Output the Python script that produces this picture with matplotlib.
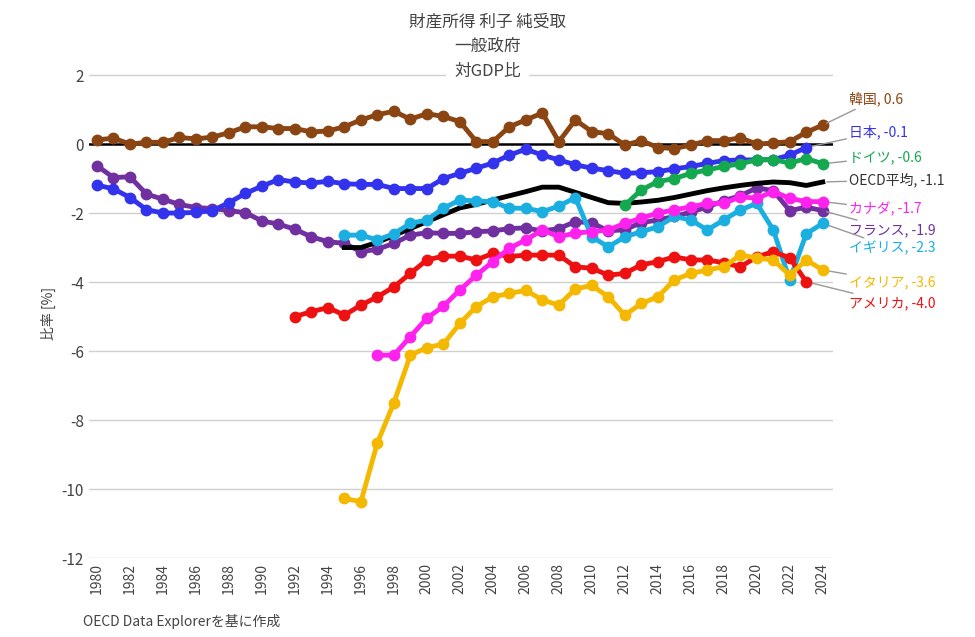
import matplotlib
matplotlib.use("Agg")
import matplotlib.pyplot as plt
import numpy as np

plt.rcParams['font.family'] = ['Noto Sans CJK JP', 'DejaVu Sans']

korea_years = list(range(1980, 2025))
korea = [0.12,0.17,0.0,0.05,0.05,0.19,0.15,0.2,0.33,0.5,0.5,0.45,0.45,0.35,0.38,0.5,0.7,0.85,0.95,0.72,0.88,0.8,0.65,0.07,0.07,0.5,0.7,0.9,0.07,0.7,0.36,0.3,-0.03,0.1,-0.1,-0.13,-0.03,0.1,0.1,0.18,0.0,0.03,0.07,0.34,0.55]
japan_years = list(range(1980, 2024))
japan = [-1.19,-1.3,-1.55,-1.9,-2.0,-2.0,-1.98,-1.93,-1.7,-1.43,-1.22,-1.03,-1.1,-1.13,-1.08,-1.15,-1.17,-1.17,-1.29,-1.29,-1.29,-1.0,-0.85,-0.7,-0.55,-0.32,-0.15,-0.32,-0.46,-0.6,-0.7,-0.77,-0.85,-0.83,-0.8,-0.72,-0.65,-0.56,-0.48,-0.46,-0.46,-0.45,-0.32,-0.1]
germany_years = list(range(2012, 2025))
germany = [-1.77,-1.33,-1.09,-1.0,-0.85,-0.75,-0.65,-0.57,-0.46,-0.45,-0.55,-0.42,-0.57]
oecd_years = list(range(1995, 2025))
oecd = [-3.0,-3.0,-2.85,-2.65,-2.45,-2.25,-2.05,-1.85,-1.75,-1.62,-1.5,-1.38,-1.25,-1.25,-1.4,-1.55,-1.7,-1.72,-1.68,-1.63,-1.55,-1.45,-1.35,-1.27,-1.2,-1.14,-1.1,-1.12,-1.2,-1.1]
canada_years = list(range(1997, 2025))
canada = [-6.12,-6.12,-5.58,-5.05,-4.7,-4.23,-3.8,-3.41,-3.02,-2.78,-2.49,-2.69,-2.58,-2.54,-2.49,-2.3,-2.15,-2.0,-1.91,-1.82,-1.72,-1.72,-1.53,-1.57,-1.38,-1.57,-1.67,-1.67]
france_years = list(range(1980, 2025))
france = [-0.63,-0.97,-0.95,-1.45,-1.6,-1.75,-1.84,-1.87,-1.93,-1.99,-2.23,-2.32,-2.47,-2.69,-2.83,-2.88,-3.12,-3.05,-2.88,-2.64,-2.57,-2.59,-2.59,-2.54,-2.52,-2.45,-2.43,-2.52,-2.45,-2.25,-2.28,-2.52,-2.48,-2.28,-2.2,-2.1,-1.97,-1.83,-1.64,-1.5,-1.27,-1.35,-1.93,-1.83,-1.93]
uk_years = list(range(1995, 2025))
uk = [-2.64,-2.64,-2.78,-2.6,-2.3,-2.2,-1.86,-1.62,-1.65,-1.67,-1.86,-1.86,-1.96,-1.8,-1.55,-2.69,-2.98,-2.69,-2.54,-2.4,-2.1,-2.2,-2.49,-2.2,-1.91,-1.72,-2.49,-3.94,-2.6,-2.3]
italy_years = list(range(1995, 2025))
italy = [-10.27,-10.37,-8.66,-7.5,-6.12,-5.9,-5.8,-5.2,-4.71,-4.43,-4.33,-4.24,-4.52,-4.67,-4.2,-4.1,-4.43,-4.96,-4.62,-4.43,-3.94,-3.75,-3.65,-3.56,-3.22,-3.3,-3.36,-3.8,-3.36,-3.65]
us_years = list(range(1992, 2024))
us = [-5.0,-4.86,-4.74,-4.96,-4.67,-4.43,-4.14,-3.75,-3.36,-3.25,-3.25,-3.36,-3.17,-3.26,-3.22,-3.22,-3.22,-3.56,-3.6,-3.8,-3.75,-3.5,-3.41,-3.27,-3.36,-3.36,-3.44,-3.56,-3.27,-3.12,-3.3,-3.99]

series = [
    ("韓国", korea_years, korea, "#8B4513", True, 1.3),
    ("日本", japan_years, japan, "#3333EE", True, 0.35),
    ("ドイツ", germany_years, germany, "#14A84F", True, -0.38),
    ("OECD平均", oecd_years, oecd, "#000000", False, -1.04),
    ("カナダ", canada_years, canada, "#FF22EE", True, -1.88),
    ("フランス", france_years, france, "#7030A0", True, -2.49),
    ("イギリス", uk_years, uk, "#1AAFE0", True, -3.01),
    ("イタリア", italy_years, italy, "#F5B800", True, -4.0),
    ("アメリカ", us_years, us, "#EE1111", True, -4.61),
]
draw_order = ["韓国", "フランス", "日本", "OECD平均", "イギリス", "アメリカ", "イタリア", "カナダ", "ドイツ"]

fig = plt.figure(figsize=(9.75, 6.37), dpi=100)
ax = fig.add_axes([0.091, 0.124, 0.763, 0.769])
ax.set_xlim(1979.5, 2024.6)
ax.set_ylim(-12, 2.2)
for v in range(-12, 3, 2):
    if v != 0:
        ax.axhline(v, color="#d0d0d0", lw=1, zorder=0)
ax.axhline(0, color="black", lw=1.8, zorder=1)

lookup = {s[0]: s for s in series}
for i, name in enumerate(draw_order):
    n, xs, ys, c, mk, ly = lookup[name]
    if mk:
        ax.plot(xs, ys, color=c, lw=3.5, marker="o", ms=7.5, zorder=2 + i)
    else:
        ax.plot(xs, ys, color=c, lw=3.5, zorder=2 + i)

for n, xs, ys, c, mk, ly in series:
    lab = f"{n}, {ys[-1]:.1f}"
    ax.annotate(lab, xy=(xs[-1], ys[-1]), xytext=(2025.6, ly), textcoords="data",
                color=c if n != "OECD平均" else "#333333", fontsize=10, va="center",
                annotation_clip=False,
                arrowprops=dict(arrowstyle="-", color="#999999", lw=1,
                                shrinkA=0, shrinkB=3))

ax.set_xticks(range(1980, 2025, 2))
ax.set_xticklabels([str(y) for y in range(1980, 2025, 2)], rotation=90, color="#444444", fontsize=10)
ax.set_yticks(range(-12, 3, 2))
ax.set_yticklabels([str(v) for v in range(-12, 3, 2)], color="#444444", fontsize=11)
ax.tick_params(length=0)
for s in ax.spines.values():
    s.set_visible(False)
ax.set_ylabel("比率 [%]", color="#444444", fontsize=10)

fig.text(0.5, 0.965, "財産所得 利子 純受取", ha="center", va="center", fontsize=12, color="#444444")
fig.text(0.5, 0.927, "一般政府", ha="center", va="center", fontsize=12, color="#444444")
fig.text(0.5, 0.888, "対GDP比", ha="center", va="center", fontsize=12, color="#444444",
         bbox=dict(facecolor="white", edgecolor="none", pad=6))
fig.text(0.085, 0.025, "OECD Data Explorerを基に作成", ha="left", va="center", fontsize=10, color="#444444")

fig.savefig("out.png", dpi=100)
